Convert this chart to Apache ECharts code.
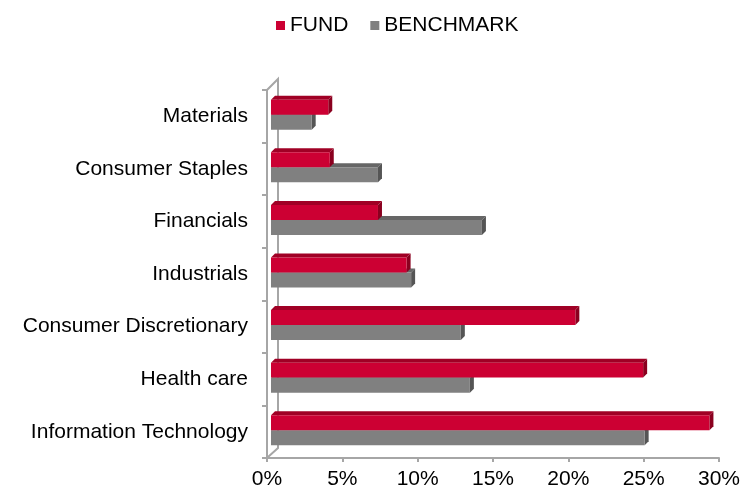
<!DOCTYPE html>
<html>
<head>
<meta charset="utf-8">
<script src="https://cdn.jsdelivr.net/npm/echarts@6/dist/echarts.min.js"></script>
<style>
html, body { margin: 0; padding: 0; background: #fff; }
#main { width: 743px; height: 497px; }
</style>
</head>
<body>
<div id="main"></div>
<script>
var sectors = ['Materials', 'Consumer Staples', 'Financials', 'Industrials',
    'Consumer Discretionary', 'Health care', 'Information Technology'];
var fund = [3.8, 3.9, 7.1, 9.0, 20.2, 24.7, 29.1];
var benchmark = [2.7, 7.1, 14.0, 9.3, 12.6, 13.2, 24.8];
var xMin = 0, xMax = 30, xStep = 5;

var font = "'Liberation Sans', Arial, sans-serif";
var axisGray = '#a6a6a6';
var depth = 4;

// draws one 3d-looking bar: top face, side face, front face
function barRenderer(offTop, front, top, side) {
    return function (params, api) {
        var v = api.value(0), c = api.value(1);
        var p0 = api.coord([0, c]);
        var p1 = api.coord([v, c]);
        var band = api.size([0, 1])[1];
        var h = band * 0.285;
        var x0 = p0[0] + depth, x1 = p1[0] + depth;
        var y0 = p0[1] + band * offTop, y1 = y0 + h;
        return {
            type: 'group',
            children: [
                { type: 'polygon', shape: { points: [[x0, y0], [x1, y0], [x1 + depth, y0 - depth], [x0 + depth, y0 - depth]] }, style: { fill: top } },
                { type: 'polygon', shape: { points: [[x1, y0], [x1 + depth, y0 - depth], [x1 + depth, y1 - depth], [x1, y1]] }, style: { fill: side } },
                { type: 'rect', shape: { x: x0, y: y0, width: x1 - x0, height: h }, style: { fill: front } }
            ]
        };
    };
}

// back wall of the 3d frame
function wallRenderer(params, api) {
    var cs = params.coordSys;
    var bx = cs.x + 11;
    var ls = { stroke: axisGray, lineWidth: 2, fill: null };
    return {
        type: 'group',
        children: [
            { type: 'polyline', shape: { points: [[cs.x, cs.y], [bx, cs.y - 11], [bx, cs.y + cs.height - 10], [cs.x + 1, cs.y + cs.height - 1]] }, style: ls }
        ]
    };
}

var chart = echarts.init(document.getElementById('main'));
chart.setOption({
    animation: false,
    legend: {
        data: ['FUND', 'BENCHMARK'],
        left: 271,
        top: 10,
        icon: 'rect',
        itemWidth: 9,
        itemHeight: 9,
        itemGap: 22,
        textStyle: { fontSize: 21, color: '#000', fontFamily: font }
    },
    grid: { left: 267, right: 22, top: 90, bottom: 39, containLabel: false },
    xAxis: {
        type: 'value',
        min: xMin, max: xMax, interval: xStep,
        axisLine: { show: true, lineStyle: { color: axisGray, width: 2 } },
        axisTick: { show: true, length: 4, lineStyle: { color: axisGray, width: 2 } },
        splitLine: { show: false },
        axisLabel: { formatter: '{value}%', fontSize: 21, color: '#000', fontFamily: font, margin: 11 }
    },
    yAxis: {
        type: 'category',
        data: sectors,
        inverse: true,
        axisLine: { show: true, lineStyle: { color: axisGray, width: 2 } },
        axisTick: { show: true, length: 5, lineStyle: { color: axisGray, width: 2 } },
        axisLabel: { fontSize: 21, color: '#000', fontFamily: font, margin: 19 }
    },
    series: [
        {
            name: 'wall', type: 'custom', silent: true, z: 1,
            renderItem: wallRenderer,
            data: [[0, 0]],
            encode: { x: 0, y: 1 }
        },
        {
            name: 'BENCHMARK', type: 'custom', z: 2,
            itemStyle: { color: '#808080' },
            renderItem: barRenderer(-0.0285, '#808080', '#666666', '#555555'),
            data: benchmark.map(function (v, i) { return [v, i]; }),
            encode: { x: 0, y: 1 }
        },
        {
            name: 'FUND', type: 'custom', z: 3,
            itemStyle: { color: '#cc0033' },
            renderItem: barRenderer(-0.314, '#cc0033', '#a00025', '#8a001f'),
            data: fund.map(function (v, i) { return [v, i]; }),
            encode: { x: 0, y: 1 }
        }
    ]
});
</script>
</body>
</html>
